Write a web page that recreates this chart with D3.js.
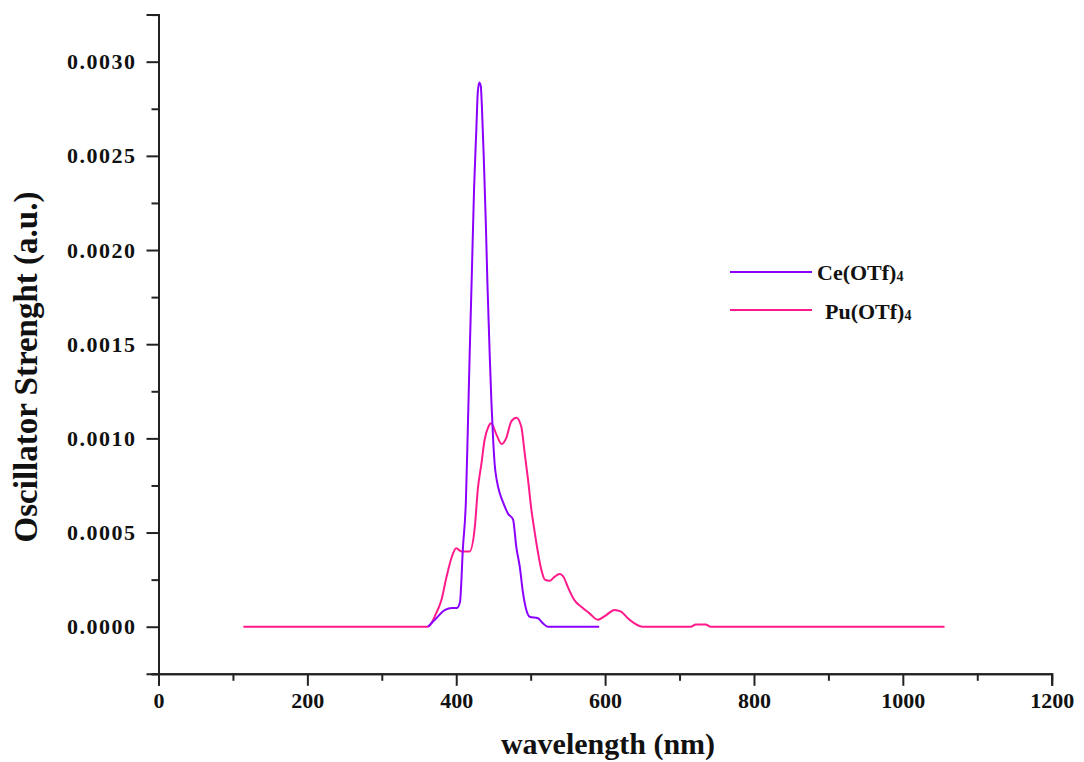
<!DOCTYPE html>
<html>
<head>
<meta charset="utf-8">
<script src="https://cdn.jsdelivr.net/npm/d3@7"></script>
<style>
  body { margin: 0; background: #fff; }
  svg { display: block; }
  text { font-family: "Liberation Serif", "Times New Roman", serif; font-weight: bold; fill: #111; }
</style>
</head>
<body>
<svg id="chart" width="1084" height="762"></svg>
<script>
// wavelength (nm) / oscillator strength
const ceWavelength = [362, 372, 385, 394, 401, 405, 409, 413, 415.5, 418, 421, 424, 427, 429, 431, 433, 434.5, 437, 439.7, 442, 445, 447.3, 449.5, 451.7, 454.8, 458.4, 463, 469.6, 476.3, 480.8, 485.3, 489.7, 494.2, 498.7, 509.8, 516.5, 523, 592];
const ceStrength = [0, 0.00004, 0.000089, 0.0001, 0.0001, 0.00013, 0.00042, 0.00067, 0.00104, 0.00144, 0.00188, 0.00233, 0.00264, 0.00284, 0.00289, 0.00287, 0.00276, 0.00249, 0.00215, 0.00181, 0.00144, 0.00119, 0.001, 0.00086, 0.00077, 0.00071, 0.00066, 0.0006, 0.00057, 0.00042, 0.00032, 0.00018, 0.000089, 0.000053, 0.000045, 0.000018, 0, 0];

const puWavelength = [114, 362, 373, 380, 387, 394, 400, 407, 418, 425, 429, 434, 438, 443, 447, 454, 461, 467, 474, 481, 487.5, 492, 496.5, 501, 505.5, 510, 514.5, 519, 525.5, 532, 539, 544, 550, 559, 568, 579, 590, 601.5, 612.5, 621.5, 630.5, 639.5, 650.5, 715, 722, 735, 742, 1056];
const puStrength = [0, 0, 0.000071, 0.00014, 0.000265, 0.00037, 0.000416, 0.0004, 0.0004, 0.00053, 0.00073, 0.00087, 0.00099, 0.00106, 0.00108, 0.00102, 0.00097, 0.001, 0.00109, 0.00111, 0.00106, 0.00092, 0.00078, 0.00062, 0.0005, 0.00039, 0.0003, 0.00025, 0.000244, 0.000265, 0.00028, 0.000265, 0.00021, 0.00014, 0.000106, 0.000071, 0.000037, 0.000062, 0.000089, 0.00008, 0.000045, 0.000018, 0, 0, 0.000012, 0.000012, 0, 0];

const xTicks = [0, 200, 400, 600, 800, 1000, 1200];
const xMinor = [100, 300, 500, 700, 900, 1100];
const yTicks = [0, 0.0005, 0.001, 0.0015, 0.002, 0.0025, 0.003];
const yMinor = [-0.00025, 0.00025, 0.00075, 0.00125, 0.00175, 0.00225, 0.00275, 0.00325];

const seriesNames = ["Ce(OTf)", "Pu(OTf)"];
const seriesColors = ["#8a00ff", "#ff1a8c"];

const svg = d3.select("#chart");

const x = d3.scaleLinear().domain([0, 1200]).range([158.5, 1051.7]);
const y = d3.scaleLinear().domain([-0.00025, 0.00325]).range([673.8, 14.6]);

const x0 = x.range()[0], yb = y.range()[0];

// axes
svg.append("g").attr("class", "xaxis").attr("transform", `translate(0,${yb})`)
  .call(d3.axisBottom(x).tickValues(xTicks).tickSize(12).tickPadding(7).tickFormat(d3.format("d")));
svg.append("g").attr("transform", `translate(0,${yb})`)
  .call(d3.axisBottom(x).tickValues(xMinor).tickSize(7).tickFormat(""));

svg.append("g").attr("class", "yaxis").attr("transform", `translate(${x0},0)`)
  .call(d3.axisLeft(y).tickValues(yTicks).tickSize(12).tickPadding(10).tickFormat(d3.format(".4f")));
svg.append("g").attr("transform", `translate(${x0},0)`)
  .call(d3.axisLeft(y).tickValues(yMinor).tickSize(7).tickFormat(""));

svg.selectAll(".domain").attr("stroke", "#222").attr("stroke-width", 2);
svg.selectAll(".tick line").attr("stroke", "#222").attr("stroke-width", 2);
svg.selectAll(".tick text").style("font-family", '"Liberation Serif", serif')
  .style("font-weight", "bold").style("font-size", "22px").attr("fill", "#111");
svg.selectAll(".yaxis .tick text").style("letter-spacing", "1.5px");

// axis titles
svg.append("text")
  .attr("x", 608).attr("y", 754)
  .attr("text-anchor", "middle")
  .style("font-size", "30px")
  .text("wavelength (nm)");

svg.append("text")
  .attr("transform", "translate(37,367) rotate(-90)")
  .attr("text-anchor", "middle")
  .style("font-size", "33px")
  .text("Oscillator Strenght (a.u.)");

// curves
const line = d3.line()
  .x(d => x(d[0]))
  .y(d => y(d[1]))
  .curve(d3.curveMonotoneX);

const puData = d3.zip(puWavelength, puStrength);
const ceData = d3.zip(ceWavelength, ceStrength);

svg.append("path").datum(puData)
  .attr("d", line).attr("fill", "none")
  .attr("stroke", seriesColors[1]).attr("stroke-width", 2);

svg.append("path").datum(ceData)
  .attr("d", line).attr("fill", "none")
  .attr("stroke", seriesColors[0]).attr("stroke-width", 2);

// legend
const legendY = [272, 310];
const legendTextX = [817, 825];
const legendBase = [280, 319];
seriesNames.forEach((name, i) => {
  svg.append("line")
    .attr("x1", 730).attr("x2", 812)
    .attr("y1", legendY[i]).attr("y2", legendY[i])
    .attr("stroke", seriesColors[i]).attr("stroke-width", 2);
  const t = svg.append("text")
    .attr("x", legendTextX[i]).attr("y", legendBase[i])
    .style("font-size", "22px");
  t.append("tspan").text(name);
  t.append("tspan").attr("dy", 1).style("font-size", "14px").text("4");
});
</script>
</body>
</html>
